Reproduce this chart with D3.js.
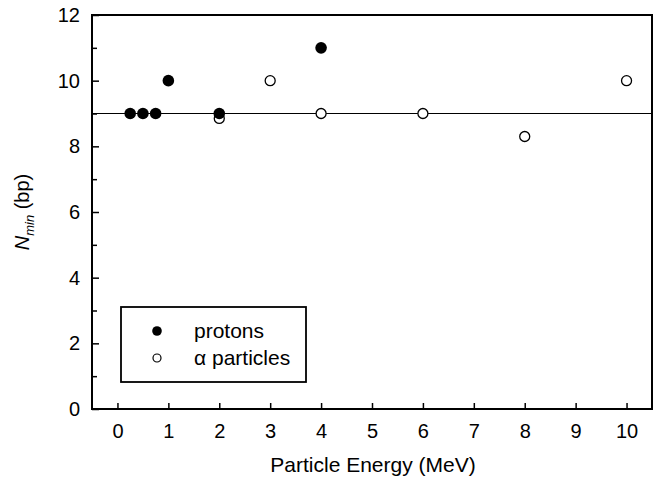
<!DOCTYPE html>
<html>
<head>
<meta charset="utf-8">
<script src="https://d3js.org/d3.v7.min.js"></script>
<style>
  body { margin: 0; background: #fff; }
  text { font-family: "Liberation Sans", Arial, sans-serif; fill: #000; }
</style>
</head>
<body>
<svg width="655" height="484"></svg>
<script>
// data
var protonEnergy = [0.25, 0.5, 0.75, 1, 2, 4];
var protonNmin   = [9, 9, 9, 10, 9, 11];
var alphaEnergy  = [2, 3, 4, 6, 8, 10];
var alphaNmin    = [8.85, 10, 9, 9, 8.3, 10];
var refLine = 9;
var xTicks = [0, 1, 2, 3, 4, 5, 6, 7, 8, 9, 10];
var yTicks = [0, 2, 4, 6, 8, 10, 12];
var yMinor = [1, 3, 5, 7, 9, 11];

var svg = d3.select('svg');
var m = { left: 92, right: 652, top: 15, bottom: 409 };

var x = d3.scaleLinear().domain([-0.5, 10.5]).range([m.left, m.right]);
var y = d3.scaleLinear().domain([0, 12]).range([m.bottom, m.top]);

// ticks pointing inward
var xAxis = d3.axisBottom(x).tickValues(xTicks).tickSize(-6).tickPadding(15).tickFormat(d3.format('d'));
var yAxis = d3.axisLeft(y).tickValues(yTicks).tickSize(-7).tickPadding(12).tickFormat(d3.format('d'));

var gx = svg.append('g').attr('transform', 'translate(0,' + m.bottom + ')').call(xAxis);
var gy = svg.append('g').attr('transform', 'translate(' + m.left + ',0)').call(yAxis);
svg.append('g').attr('transform', 'translate(' + m.left + ',0)')
  .call(d3.axisLeft(y).tickValues(yMinor).tickSize(-5).tickFormat(''))
  .select('.domain').remove();

[gx, gy].forEach(function(g) {
  g.select('.domain').remove();
  g.selectAll('text').style('font-size', '20px').attr('fill', '#000');
});
svg.selectAll('.tick line').attr('stroke', '#000').attr('stroke-width', 1.5);

// frame
svg.append('rect')
  .attr('x', m.left).attr('y', m.top)
  .attr('width', m.right - m.left).attr('height', m.bottom - m.top)
  .attr('fill', 'none').attr('stroke', '#000').attr('stroke-width', 2);

// reference line
svg.append('line')
  .attr('x1', m.left).attr('x2', m.right)
  .attr('y1', y(refLine)).attr('y2', y(refLine))
  .attr('stroke', '#000').attr('stroke-width', 1.2);

// points
svg.append('g').selectAll('circle')
  .data(alphaEnergy)
  .enter().append('circle')
  .attr('cx', function(d) { return x(d); })
  .attr('cy', function(d, i) { return y(alphaNmin[i]); })
  .attr('r', 5)
  .attr('fill', '#fff').attr('stroke', '#000').attr('stroke-width', 1.3);

svg.append('g').selectAll('circle')
  .data(protonEnergy)
  .enter().append('circle')
  .attr('cx', function(d) { return x(d); })
  .attr('cy', function(d, i) { return y(protonNmin[i]); })
  .attr('r', 5.8)
  .attr('fill', '#000');

// legend
var lg = svg.append('g');
lg.append('rect').attr('x', 121).attr('y', 307).attr('width', 185).attr('height', 75)
  .attr('fill', '#fff').attr('stroke', '#000').attr('stroke-width', 1.8);
lg.append('circle').attr('cx', 157).attr('cy', 331).attr('r', 4.8).attr('fill', '#000');
lg.append('circle').attr('cx', 157).attr('cy', 358).attr('r', 4).attr('fill', '#fff')
  .attr('stroke', '#000').attr('stroke-width', 1.2);
lg.append('text').attr('x', 194).attr('y', 338).style('font-size', '21px').text('protons');
lg.append('text').attr('x', 194).attr('y', 365).style('font-size', '21px').text('α particles');

// axis titles
svg.append('text')
  .attr('x', (m.left + m.right) / 2 + 1).attr('y', 472)
  .attr('text-anchor', 'middle').style('font-size', '21px')
  .text('Particle Energy (MeV)');

var yt = svg.append('text')
  .attr('transform', 'translate(29,' + ((m.top + m.bottom) / 2) + ') rotate(-90)')
  .attr('text-anchor', 'middle').style('font-size', '20px');
yt.append('tspan').style('font-style', 'italic').text('N');
yt.append('tspan').style('font-style', 'italic').style('font-size', '13px').attr('dy', 5).text('min');
yt.append('tspan').attr('dy', -5).text(' (bp)');
</script>
</body>
</html>
